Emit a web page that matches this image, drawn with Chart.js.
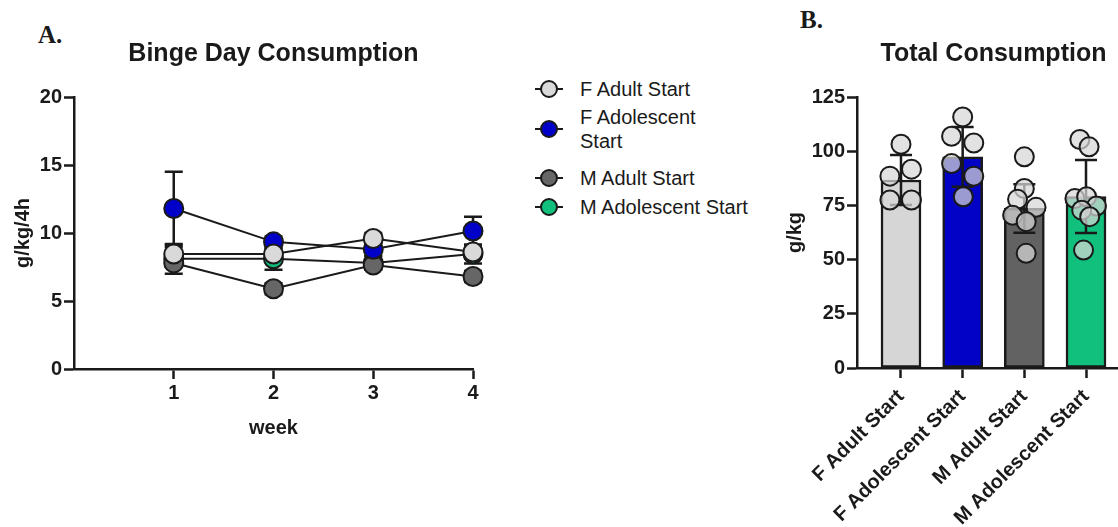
<!DOCTYPE html>
<html>
<head>
<meta charset="utf-8">
<script src="https://cdn.jsdelivr.net/npm/chart.js@4/dist/chart.umd.min.js"></script>
<style>
  html, body { margin:0; padding:0; background:#fff; }
  body { width:1118px; height:527px; overflow:hidden; position:relative; font-family:"Liberation Sans", Arial, sans-serif; color:#1a1a1a; }
  canvas { position:absolute; top:0; }
  #cLine { left:0; }
  #cBar  { left:780px; }
  .panel { position:absolute; font-family:"Liberation Serif", "Times New Roman", serif; font-weight:bold; font-size:25px; line-height:1; }
  .leg { position:absolute; left:580px; font-size:20px; line-height:24px; }
  .mk { position:absolute; left:535px; width:28px; height:2px; background:#1a1a1a; }
  .mk i { position:absolute; left:5px; top:-8px; width:14px; height:14px; border:2px solid #1a1a1a; border-radius:50%; }
</style>
</head>
<body>
<div class="panel" style="left:38px; top:22px;">A.</div>
<div class="panel" style="left:800px; top:7px;">B.</div>

<canvas id="cLine" width="500" height="527"></canvas>
<canvas id="cBar" width="380" height="527"></canvas>

<div id="legend"></div>

<script>
const FONT = '"Liberation Sans", Arial, sans-serif';
const INK = '#1a1a1a';

// ---------- A. binge day consumption (mean ± SEM) ----------
const weeks = [1, 2, 3, 4];
const seriesNames  = ['F Adult Start', 'F Adolescent Start', 'M Adult Start', 'M Adolescent Start'];
const seriesColors = ['#d9d9d9', '#0000c8', '#666666', '#10c07c'];
const fAdult    = [8.45, 8.45, 9.6, 8.6];
const fAdol     = [11.8, 9.35, 8.8, 10.15];
const mAdult    = [7.8, 5.9, 7.65, 6.8];
const mAdol     = [8.1, 8.1, 7.8, 8.45];
const fAdultErr = [0.5, 0.4, 0.4, 0.5];
const fAdolErr  = [2.7, 0.4, 0.5, 1.05];
const mAdultErr = [0.3, 0.4, 0.3, 0.4];
const mAdolErr  = [1.1, 0.8, 0.5, 0.7];

// ---------- B. total consumption (mean ± SD, individual animals) ----------
const groups   = ['F Adult Start', 'F Adolescent Start', 'M Adult Start', 'M Adolescent Start'];
const barMeans = [86.7, 97.4, 73.6, 79.1];
const barSD    = [11.5, 13.8, 11.2, 16.8];
const barColors = ['#d6d6d6', '#0202c6', '#626262', '#10c07c'];
const ptsFAdult = [103.2, 88.5, 91.7, 77.5, 77.5];
const ptsFAdol  = [115.8, 106.9, 103.8, 94.3, 88.5, 79.0];
const ptsMAdult = [97.4, 82.8, 77.8, 74.1, 70.5, 67.5, 52.9];
const ptsMAdol  = [105.4, 102.0, 78.2, 79.0, 74.7, 72.8, 69.8, 54.4];
// horizontal scatter of each dot, in category widths
const jitFAdult = [0, -0.18, 0.17, -0.18, 0.17];
const jitFAdol  = [0, -0.18, 0.18, -0.18, 0.18, 0.01];
const jitMAdult = [0, 0, -0.11, 0.19, -0.19, 0.03, 0.03];
const jitMAdol  = [-0.1, 0.05, -0.18, 0.01, 0.17, -0.07, 0.06, -0.04];

// ---------- helpers ----------
function errLine(ctx, x, yHi, yLo, half) {
  ctx.beginPath();
  ctx.moveTo(x, yHi); ctx.lineTo(x, yLo);
  ctx.moveTo(x - half, yHi); ctx.lineTo(x + half, yHi);
  ctx.moveTo(x - half, yLo); ctx.lineTo(x + half, yLo);
  ctx.stroke();
}

function axisCommon(extra) {
  return Object.assign({
    ticks: { color: INK, font: { family: FONT, size: 20, weight: 'bold' }, padding: 2 },
    grid: { drawOnChartArea: false, drawTicks: true, tickLength: 10, tickWidth: 2.5, tickColor: INK, offset: false },
    border: { color: INK, width: 2.5 },
  }, extra);
}

// ---------- line chart ----------
const lineVals = [fAdult, fAdol, mAdult, mAdol];
const lineErrs = [fAdultErr, fAdolErr, mAdultErr, mAdolErr];

const lineErrorBars = {
  id: 'lineErrorBars',
  beforeDatasetsDraw(chart) {
    const { ctx, scales: { x, y } } = chart;
    ctx.save();
    ctx.strokeStyle = INK; ctx.lineWidth = 2.5;
    lineVals.forEach((vals, s) => {
      vals.forEach((v, i) => {
        const e = lineErrs[s][i];
        errLine(ctx, x.getPixelForValue(weeks[i]), y.getPixelForValue(v + e), y.getPixelForValue(v - e), 9);
      });
    });
    ctx.restore();
  }
};

new Chart(document.getElementById('cLine'), {
  type: 'line',
  data: {
    datasets: lineVals.map((vals, s) => ({
      label: seriesNames[s],
      data: vals.map((v, i) => ({ x: weeks[i], y: v })),
      borderColor: INK, borderWidth: 2,
      pointRadius: 9.5, pointBorderWidth: 2, pointBorderColor: INK,
      pointBackgroundColor: seriesColors[s],
      order: s + 1, clip: false,
    }))
  },
  options: {
    responsive: false, animation: false,
    layout: { padding: { left: 0, right: 27, top: 0, bottom: 83 } },
    plugins: {
      legend: { display: false }, tooltip: { enabled: false },
      title: { display: true, text: 'Binge Day Consumption', fullSize: false, color: INK,
        font: { family: FONT, size: 25, weight: 'bold' }, padding: { top: 39, bottom: 28 } }
    },
    scales: {
      x: axisCommon({
        type: 'linear', min: 0, max: 4,
        afterBuildTicks: s => { s.ticks = weeks.map(v => ({ value: v })); },
        title: { display: true, text: 'week', color: INK, font: { family: FONT, size: 20, weight: 'bold' }, padding: { top: 0, bottom: 4 } },
        afterFit: s => { s.height = 75; }
      }),
      y: axisCommon({
        min: 0, max: 20,
        afterBuildTicks: s => { s.ticks = [0, 5, 10, 15, 20].map(v => ({ value: v })); },
        title: { display: true, text: 'g/kg/4h', color: INK, font: { family: FONT, size: 20, weight: 'bold' }, padding: { top: 11, bottom: 0 } },
        afterFit: s => { s.width = 74; }
      })
    }
  },
  plugins: [lineErrorBars]
});

// ---------- legend ----------
const legendRows = [
  { lines: ['F Adult Start'], top: 77, mark: 89 },
  { lines: ['F Adolescent', 'Start'], top: 105, mark: 129 },
  { lines: ['M Adult Start'], top: 166, mark: 178 },
  { lines: ['M Adolescent Start'], top: 195, mark: 207 },
];
const legendEl = document.getElementById('legend');
legendRows.forEach((r, s) => {
  legendEl.insertAdjacentHTML('beforeend',
    `<div class="mk" style="top:${r.mark - 1}px"><i style="background:${seriesColors[s]}"></i></div>` +
    `<div class="leg" style="top:${r.top}px">${r.lines.join('<br>')}</div>`);
});

// ---------- bar chart ----------
const ptsAll = [ptsFAdult, ptsFAdol, ptsMAdult, ptsMAdol];
const jitAll = [jitFAdult, jitFAdol, jitMAdult, jitMAdol];

const barErrorBars = {
  id: 'barErrorBars',
  afterDatasetDraw(chart, args) {
    if (args.index !== 0) return;
    const { ctx, scales: { x, y } } = chart;
    ctx.save();
    ctx.strokeStyle = INK; ctx.lineWidth = 2.5;
    barMeans.forEach((m, i) => {
      errLine(ctx, x.getPixelForValue(i), y.getPixelForValue(m + barSD[i]), y.getPixelForValue(m - barSD[i]), 11);
    });
    ctx.restore();
  }
};

new Chart(document.getElementById('cBar'), {
  type: 'bar',
  data: {
    datasets: [
      {
        data: barMeans.map((v, i) => ({ x: i, y: v })),
        backgroundColor: barColors, borderColor: INK, borderWidth: 2.5,
        barThickness: 40, borderSkipped: false, order: 2,
      },
      {
        type: 'scatter',
        data: ptsAll.flatMap((pts, g) => pts.map((v, k) => ({ x: g + jitAll[g][k], y: v }))),
        pointRadius: 9.5, pointBorderWidth: 2, borderColor: INK,
        backgroundColor: 'rgba(215,215,215,0.72)', order: 1, clip: false,
      }
    ]
  },
  options: {
    responsive: false, animation: false,
    layout: { padding: { left: 0, right: 30, top: 0, bottom: 0 } },
    plugins: {
      legend: { display: false }, tooltip: { enabled: false },
      title: { display: true, text: 'Total Consumption', fullSize: false, color: INK,
        font: { family: FONT, size: 25, weight: 'bold' }, padding: { top: 39, bottom: 28 } }
    },
    scales: {
      x: axisCommon({
        type: 'linear', min: -0.7135, max: 3.7135, offset: false,
        afterBuildTicks: s => { s.ticks = groups.map((g, i) => ({ value: i })); },
        ticks: { color: INK, font: { family: FONT, size: 20, weight: 'bold' }, padding: 7,
          autoSkip: false, minRotation: 45, maxRotation: 45, callback: v => groups[v] },
        afterFit: s => { s.height = 159; }
      }),
      y: axisCommon({
        min: 0, max: 125,
        afterBuildTicks: s => { s.ticks = [0, 25, 50, 75, 100, 125].map(v => ({ value: v })); },
        title: { display: true, text: 'g/kg', color: INK, font: { family: FONT, size: 20, weight: 'bold' }, padding: { top: 3, bottom: 0 } },
        afterFit: s => { s.width = 77; }
      })
    }
  },
  plugins: [barErrorBars]
});
</script>
</body>
</html>
